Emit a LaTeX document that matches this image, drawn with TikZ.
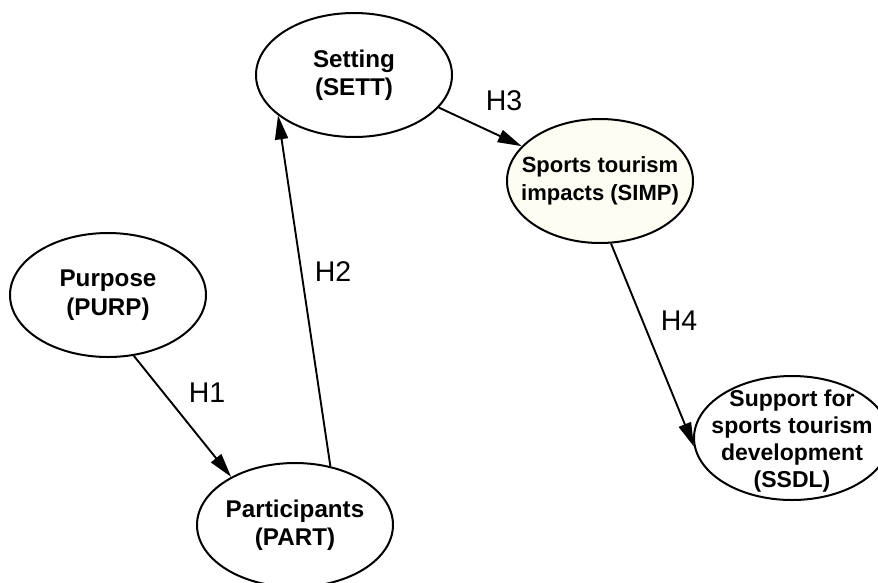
\documentclass[tikz,border=0pt]{standalone}
\usepackage{fontspec}
\setmainfont{Liberation Sans}
\usetikzlibrary{shapes.geometric,arrows.meta}
\definecolor{ivory}{RGB}{253,253,243}
\begin{document}
\begin{tikzpicture}[x=1pt,y=-1pt,
  latent/.style={ellipse,draw=black,line width=2pt,fill=white,minimum width=196pt,minimum height=124pt,inner sep=0pt},
  ltext/.style={inner sep=0pt,align=center,font=\bfseries\fontsize{24.2}{28.5}\selectfont},
  conn/.style={line width=1.9pt,-{Triangle[length=24pt,width=13pt]}},
  hlab/.style={inner sep=0pt,font=\fontsize{28.5}{32}\selectfont}]
\useasboundingbox (0,0) rectangle (878,582);
\clip (0,0) rectangle (878,582);
\fill[white] (0,0) rectangle (878,582);
\node[latent] (sett) at (354,75) {};
\node[latent,fill=ivory,minimum width=186pt] (simp) at (600,181) {};
\node[latent] (purp) at (108,295) {};
\node[latent] (part) at (295,525) {};
\node[latent] (ssdl) at (792,438) {};
\node[ltext] (sett-t) at (sett.center) {Setting\\(SETT)};
\node[ltext,font=\bfseries\fontsize{22}{28}\selectfont] (simp-t) at (simp.center) {Sports tourism\\impacts (SIMP)};
\node[ltext] (purp-t) at (purp.center) {Purpose\\(PURP)};
\node[ltext] (part-t) at (part.center) {Participants\\(PART)};
\node[ltext,font=\bfseries\fontsize{23}{27}\selectfont] (ssdl-t) at ([yshift=-3pt]ssdl.center) {Support for\\sports tourism\\development\\(SSDL)};
\draw[conn] (purp.-67.7) -- (part.143.1);
\draw[conn] (part.59.7) -- (sett.208.9);
\draw[conn] (sett.-21.4) -- (simp.156.2);
\draw[conn] (simp.-80.8) -- (ssdl.185);
\node[hlab] (h1) at (207,393) {H1};
\node[hlab] (h2) at (333,272) {H2};
\node[hlab] (h3) at (504,101) {H3};
\node[hlab] (h4) at (679,321) {H4};
\end{tikzpicture}
\end{document}
